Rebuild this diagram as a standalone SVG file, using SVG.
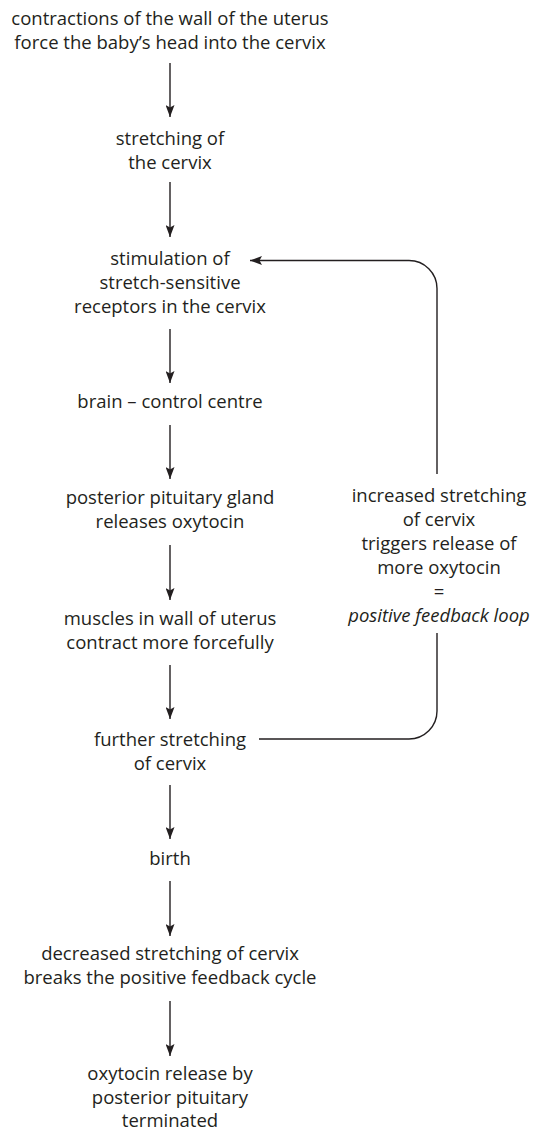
<svg xmlns="http://www.w3.org/2000/svg" width="536" height="1131" viewBox="0 0 536 1131">
<style>
text{font-family:"Open Sans","Noto Sans","Liberation Sans",sans-serif;font-size:18.5px;fill:#231f20;text-anchor:middle}
.it{font-style:italic}
.ln{stroke:#231f20;stroke-width:1.4;fill:none}
</style>
<defs>
<marker id="ah" markerUnits="userSpaceOnUse" markerWidth="13" markerHeight="9" refX="12" refY="4.5" orient="auto">
<path d="M0,0 L12,4.5 L0,9 L2.5,4.5 Z" fill="#231f20"/>
</marker>
</defs>
<rect width="536" height="1131" fill="#fff"/>
<g id="n1"><text x="170" y="25">contractions of the wall of the uterus</text><text x="170" y="49">force the baby’s head into the cervix</text></g>
<g id="n2"><text x="170" y="145">stretching of</text><text x="170" y="169">the cervix</text></g>
<g id="n3"><text x="170" y="265">stimulation of</text><text x="170" y="289">stretch-sensitive</text><text x="170" y="313">receptors in the cervix</text></g>
<g id="n4"><text x="170" y="408">brain – control centre</text></g>
<g id="n5"><text x="170" y="504">posterior pituitary gland</text><text x="170" y="528">releases oxytocin</text></g>
<g id="n6"><text x="170" y="625">muscles in wall of uterus</text><text x="170" y="649">contract more forcefully</text></g>
<g id="n7"><text x="170" y="746">further stretching</text><text x="170" y="770">of cervix</text></g>
<g id="n8"><text x="170" y="865">birth</text></g>
<g id="n9"><text x="170" y="960">decreased stretching of cervix</text><text x="170" y="984">breaks the positive feedback cycle</text></g>
<g id="n10"><text x="170" y="1080">oxytocin release by</text><text x="170" y="1104">posterior pituitary</text><text x="170" y="1127">terminated</text></g>
<g id="n11"><text x="439" y="502">increased stretching</text><text x="439" y="526">of cervix</text><text x="439" y="550">triggers release of</text><text x="439" y="574">more oxytocin</text><text x="439" y="598">=</text><text x="439" y="622" class="it">positive feedback loop</text></g>
<g id="connectors">
<line class="ln" x1="170" y1="63" x2="170" y2="117" marker-end="url(#ah)"/>
<line class="ln" x1="170" y1="182" x2="170" y2="237" marker-end="url(#ah)"/>
<line class="ln" x1="170" y1="329" x2="170" y2="383" marker-end="url(#ah)"/>
<line class="ln" x1="170" y1="425" x2="170" y2="479" marker-end="url(#ah)"/>
<line class="ln" x1="170" y1="545" x2="170" y2="600" marker-end="url(#ah)"/>
<line class="ln" x1="170" y1="665" x2="170" y2="719" marker-end="url(#ah)"/>
<line class="ln" x1="170" y1="785" x2="170" y2="839" marker-end="url(#ah)"/>
<line class="ln" x1="170" y1="881" x2="170" y2="936" marker-end="url(#ah)"/>
<line class="ln" x1="170" y1="1001" x2="170" y2="1056" marker-end="url(#ah)"/>
<path class="ln" d="M259,739 H409 A28,28 0 0 0 437,711 V633"/>
<path class="ln" d="M437,474 V288.5 A28,28 0 0 0 409,260.5 H250" marker-end="url(#ah)"/>
</g>
</svg>
